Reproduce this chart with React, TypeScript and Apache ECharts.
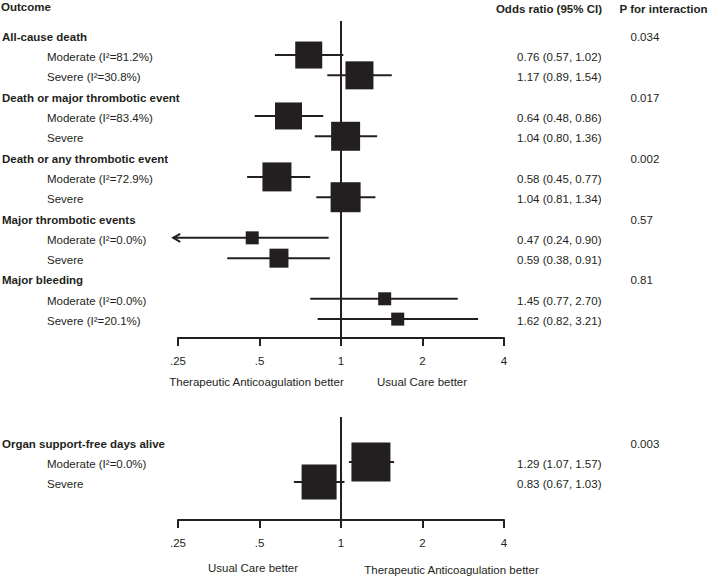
import React, { useEffect, useRef } from "react";
import * as echarts from "echarts";

// ---------- axis ticks ----------
const xTickValues = [0.25, 0.5, 1, 2, 4];
const xTickLabels = [".25", ".5", "1", "2", "4"];

// ---------- panel 1 ----------
const outcomes = [
  "All-cause death",
  "Death or major thrombotic event",
  "Death or any thrombotic event",
  "Major thrombotic events",
  "Major bleeding",
];
const pInteraction = ["0.034", "0.017", "0.002", "0.57", "0.81"];
const subgroupLabels = [
  "Moderate (I²=81.2%)",
  "Severe (I²=30.8%)",
  "Moderate (I²=83.4%)",
  "Severe",
  "Moderate (I²=72.9%)",
  "Severe",
  "Moderate (I²=0.0%)",
  "Severe",
  "Moderate (I²=0.0%)",
  "Severe (I²=20.1%)",
];
const oddsRatio = [0.76, 1.17, 0.64, 1.04, 0.58, 1.04, 0.47, 0.59, 1.45, 1.62];
const ciLower = [0.57, 0.89, 0.48, 0.8, 0.45, 0.81, 0.24, 0.38, 0.77, 0.82];
const ciUpper = [1.02, 1.54, 0.86, 1.36, 0.77, 1.34, 0.9, 0.91, 2.7, 3.21];
const weight = [27, 28, 27, 29, 29, 30, 13, 19, 13, 13];

// ---------- panel 2 ----------
const outcomes2 = ["Organ support-free days alive"];
const pInteraction2 = ["0.003"];
const subgroupLabels2 = ["Moderate (I²=0.0%)", "Severe"];
const oddsRatio2 = [1.29, 0.83];
const ciLower2 = [1.07, 0.67];
const ciUpper2 = [1.57, 1.03];
const weight2 = [39, 35];

const INK = "#231f20";
const FONT = "Liberation Sans, Arial, Helvetica, sans-serif";
const FS = 11.5;
const X_MIN = Math.log2(xTickValues[0]);
const X_MAX = Math.log2(xTickValues[xTickValues.length - 1]);

type Row = {
  row: number;
  heading: boolean;
  text: string;
  p?: string;
  or?: number;
  lo?: number;
  hi?: number;
  w?: number;
};

function buildRows(
  outs: string[],
  ps: string[],
  labels: string[],
  ors: number[],
  los: number[],
  his: number[],
  ws: number[]
): Row[] {
  const rows: Row[] = [];
  let r = 0;
  let k = 0;
  outs.forEach((o, i) => {
    rows.push({ row: r++, heading: true, text: o, p: ps[i] });
    for (let j = 0; j < 2; j++) {
      rows.push({
        row: r++,
        heading: false,
        text: labels[k],
        or: ors[k],
        lo: los[k],
        hi: his[k],
        w: ws[k],
      });
      k++;
    }
  });
  return rows;
}

const fmt = (v: number) => v.toFixed(2);

function tickFormatter(v: number) {
  for (let i = 0; i < xTickValues.length; i++) {
    if (Math.abs(Math.log2(xTickValues[i]) - v) < 1e-6) return xTickLabels[i];
  }
  return "";
}

function forestRender(params: any, api: any) {
  const row = api.value(1);
  const c = api.coord([api.value(0), row]);
  const l = api.coord([api.value(2), row]);
  const h = api.coord([api.value(3), row]);
  const s = api.value(4);
  const children: any[] = [
    {
      type: "line",
      shape: { x1: l[0], y1: l[1], x2: h[0], y2: h[1] },
      style: { stroke: INK, lineWidth: 2 },
    },
    {
      type: "rect",
      shape: { x: c[0] - s / 2, y: c[1] - s / 2, width: s, height: s },
      style: { fill: INK },
    },
  ];
  if (api.value(2) < X_MIN) {
    children.push({
      type: "polyline",
      shape: {
        points: [
          [l[0] + 7, l[1] - 4],
          [l[0], l[1]],
          [l[0] + 7, l[1] + 4],
        ],
      },
      style: { stroke: INK, lineWidth: 2, fill: "none" },
    });
  }
  return { type: "group", children };
}

function makeTextRender(rows: Row[]) {
  return (params: any, api: any) => {
    const r = rows[params.dataIndex];
    const y = api.coord([0, api.value(1)])[1] + 2;
    const children: any[] = [];
    children.push({
      type: "text",
      style: {
        text: r.text,
        x: r.heading ? 2 : 47,
        y,
        fill: INK,
        fontSize: FS,
        fontFamily: FONT,
        fontWeight: r.heading ? "bold" : "normal",
        align: "left",
        verticalAlign: "middle",
      },
    });
    if (r.heading && r.p) {
      children.push({
        type: "text",
        style: {
          text: r.p,
          x: 630.5,
          y,
          fill: INK,
          fontSize: FS,
          fontFamily: FONT,
          align: "left",
          verticalAlign: "middle",
        },
      });
    }
    if (!r.heading) {
      children.push({
        type: "text",
        style: {
          text: `${fmt(r.or!)} (${fmt(r.lo!)}, ${fmt(r.hi!)})`,
          x: 601.5,
          y,
          fill: INK,
          fontSize: FS,
          fontFamily: FONT,
          align: "right",
          verticalAlign: "middle",
        },
      });
    }
    return { type: "group", children };
  };
}

export default function App() {
  const ref = useRef<HTMLDivElement>(null);

  useEffect(() => {
    document.body.style.margin = "0";
    if (!ref.current) return;
    const chart = echarts.init(ref.current, null, { renderer: "svg" });

    const rows1 = buildRows(outcomes, pInteraction, subgroupLabels, oddsRatio, ciLower, ciUpper, weight);
    const rows2 = buildRows(outcomes2, pInteraction2, subgroupLabels2, oddsRatio2, ciLower2, ciUpper2, weight2);

    const forestData = (rows: Row[]) =>
      rows
        .filter((r) => !r.heading)
        .map((r) => [Math.log2(r.or!), r.row, Math.log2(r.lo!), Math.log2(r.hi!), r.w!]);

    const xAxisBase = (gridIndex: number) => ({
      type: "value",
      gridIndex,
      min: X_MIN,
      max: X_MAX,
      interval: 1,
      position: "bottom",
      splitLine: { show: false },
      axisLine: { show: true, onZero: false, lineStyle: { color: INK, width: 2 } },
      axisTick: { show: true, inside: false, length: 8, lineStyle: { color: INK, width: 2 } },
      axisLabel: {
        formatter: tickFormatter,
        color: INK,
        fontSize: FS,
        fontFamily: FONT,
        margin: 17,
      },
    });

    const yAxisBase = (gridIndex: number, min: number, max: number) => ({
      type: "value",
      gridIndex,
      inverse: true,
      min,
      max,
      show: false,
      splitLine: { show: false },
    });

    const refLine = {
      silent: true,
      symbol: "none",
      label: { show: false },
      lineStyle: { color: INK, width: 2, type: "solid" },
      data: [{ xAxis: 0 }],
    };

    const caption = (text: string, x: number, y: number) => ({
      type: "text",
      x,
      y,
      style: {
        text,
        fill: INK,
        fontSize: FS,
        fontFamily: FONT,
        align: "center",
        verticalAlign: "middle",
      },
    });
    const header = (text: string, x: number, y: number, align: string) => ({
      type: "text",
      x,
      y,
      style: {
        text,
        fill: INK,
        fontSize: FS,
        fontFamily: FONT,
        fontWeight: "bold",
        align,
        verticalAlign: "middle",
      },
    });

    chart.setOption({
      animation: false,
      backgroundColor: "#ffffff",
      grid: [
        { left: 178, width: 326, top: 21, height: 317 },
        { left: 178, width: 326, top: 417, height: 103 },
      ],
      xAxis: [xAxisBase(0), xAxisBase(1)],
      yAxis: [yAxisBase(0, -0.675, 14.93), yAxisBase(1, -1.25, 3.9)],
      graphic: [
        header("Outcome", 1, 7, "left"),
        header("Odds ratio (95% CI)", 602, 9, "right"),
        header("P for interaction", 619.5, 9, "left"),
        caption("Therapeutic Anticoagulation better", 256.5, 382),
        caption("Usual Care better", 422, 382),
        caption("Usual Care better", 253, 568),
        caption("Therapeutic Anticoagulation better", 451.5, 570),
      ],
      series: [
        {
          type: "custom",
          xAxisIndex: 0,
          yAxisIndex: 0,
          renderItem: forestRender,
          encode: { x: 0, y: 1 },
          data: forestData(rows1),
          markLine: refLine,
          z: 3,
        },
        {
          type: "custom",
          xAxisIndex: 0,
          yAxisIndex: 0,
          renderItem: makeTextRender(rows1),
          encode: { x: 0, y: 1 },
          data: rows1.map((r) => [0, r.row]),
          z: 4,
        },
        {
          type: "custom",
          xAxisIndex: 1,
          yAxisIndex: 1,
          renderItem: forestRender,
          encode: { x: 0, y: 1 },
          data: forestData(rows2),
          markLine: refLine,
          z: 3,
        },
        {
          type: "custom",
          xAxisIndex: 1,
          yAxisIndex: 1,
          renderItem: makeTextRender(rows2),
          encode: { x: 0, y: 1 },
          data: rows2.map((r) => [0, r.row]),
          z: 4,
        },
      ],
    });

    return () => {
      chart.dispose();
    };
  }, []);

  return (
    <div
      ref={ref}
      style={{ position: "fixed", left: 0, top: 0, width: 709, height: 578, background: "#fff" }}
    />
  );
}
